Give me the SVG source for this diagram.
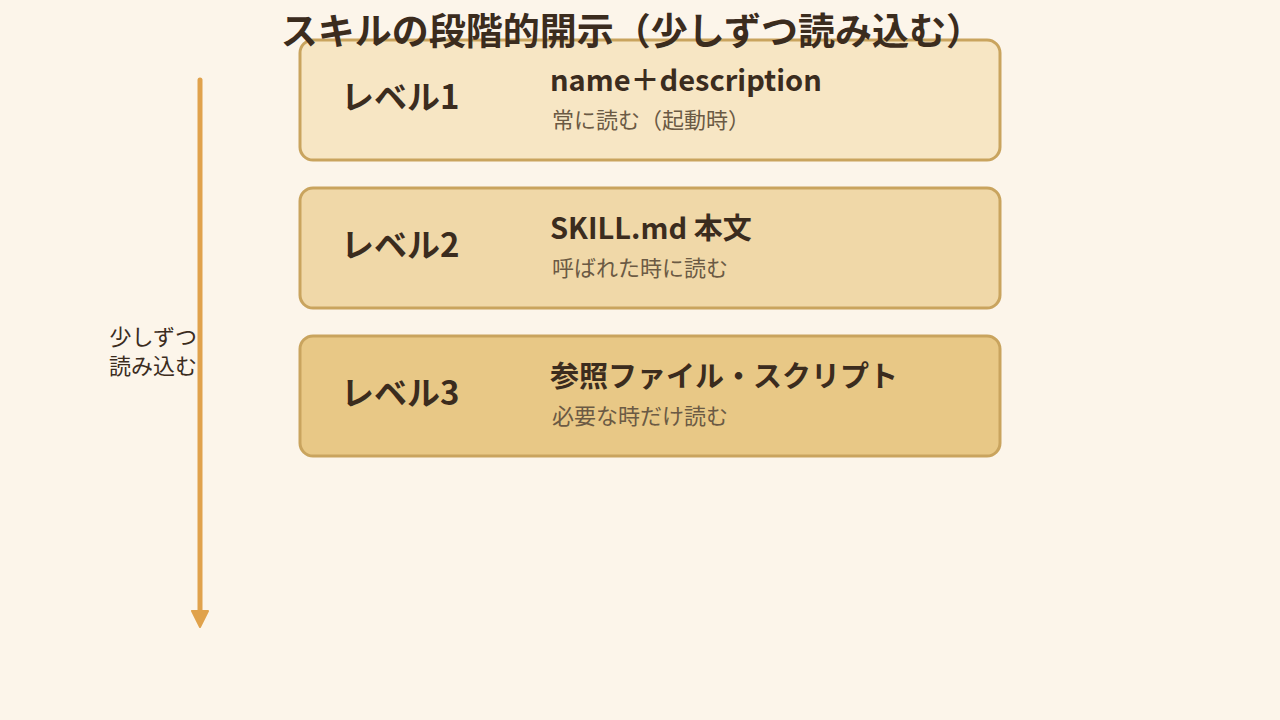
<svg xmlns="http://www.w3.org/2000/svg" width="1280" height="720" viewBox="0 0 1280 720">
<defs>
<style>
text{font-family:"Noto Sans CJK JP","Noto Sans",sans-serif;fill:#3b2c1e}
.title{font-size:37px;font-weight:700}
.lvl{font-size:33px;font-weight:700}
.head{font-size:29px;font-weight:700}
.sub{font-size:22px;fill:#6b5a44}
.side{font-size:22px;fill:#3b2c1e}
.box{stroke:#c9a45e;stroke-width:3}
</style>
</defs>
<rect width="1280" height="720" fill="#fcf5ea"/>
<g id="connectors">
<line x1="200" y1="80" x2="200" y2="612" stroke="#e0a24c" stroke-width="5" stroke-linecap="round"/>
<path d="M192,611 L208,611 L200,627 Z" fill="#e0a24c" stroke="#e0a24c" stroke-width="2" stroke-linejoin="round"/>
</g>
<g id="side-label">
<text class="side" text-anchor="end"><tspan x="197" y="345">少しずつ</tspan><tspan x="197" y="374">読み込む</tspan></text>
</g>
<g id="level1">
<rect class="box" x="300" y="40" width="700" height="120" rx="13" fill="#f7e6c4"/>
<text class="lvl" x="341" y="109">レベル1</text>
<text class="head" x="550" y="91">name＋description</text>
<text class="sub" x="552" y="128">常に読む（起動時）</text>
</g>
<g id="level2">
<rect class="box" x="300" y="188" width="700" height="120" rx="13" fill="#f0d8a8"/>
<text class="lvl" x="341" y="257">レベル2</text>
<text class="head" x="550" y="239">SKILL.md 本文</text>
<text class="sub" x="552" y="276">呼ばれた時に読む</text>
</g>
<g id="level3">
<rect class="box" x="300" y="336" width="700" height="120" rx="13" fill="#e8c886"/>
<text class="lvl" x="341" y="405">レベル3</text>
<text class="head" x="550" y="387">参照ファイル・スクリプト</text>
<text class="sub" x="552" y="424">必要な時だけ読む</text>
</g>
<g id="title">
<text class="title" x="632" y="45" text-anchor="middle">スキルの段階的開示（少しずつ読み込む）</text>
</g>
</svg>
